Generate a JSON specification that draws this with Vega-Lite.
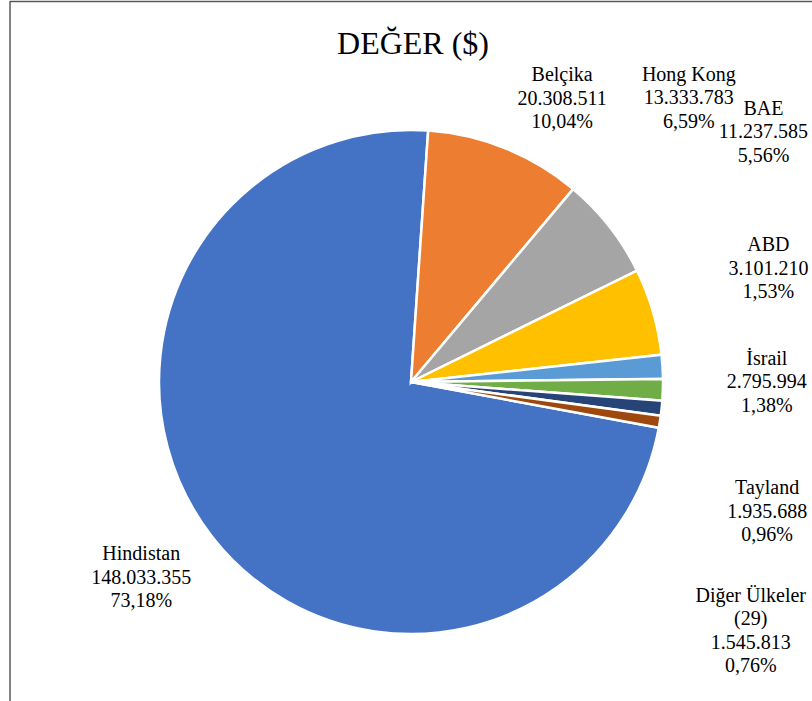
{
  "$schema": "https://vega.github.io/schema/vega-lite/v6.json",
  "width": 802,
  "height": 700,
  "autosize": {"type": "none"},
  "padding": {"left": 10, "top": 1, "right": 0, "bottom": 0},
  "background": "white",
  "title": {"text": "DEĞER ($)", "font": "Liberation Serif", "fontSize": 32, "fontWeight": "normal", "color": "#000000", "anchor": "middle", "frame": "group", "offset": -86, "baseline": "alphabetic", "dx": 2},
  "config": {
    "view": {"stroke": null},
    "locale": {"number": {"decimal": ",", "thousands": ".", "grouping": [3], "currency": ["", " $"]}}
  },
  "data": {"values": [
    {"ulke": "Hindistan", "deger": 148033355, "sira": 1},
    {"ulke": "Belçika", "deger": 20308511, "sira": 2},
    {"ulke": "Hong Kong", "deger": 13333783, "sira": 3},
    {"ulke": "BAE", "deger": 11237585, "sira": 4},
    {"ulke": "ABD", "deger": 3101210, "sira": 5},
    {"ulke": "İsrail", "deger": 2795994, "sira": 6},
    {"ulke": "Tayland", "deger": 1935688, "sira": 7},
    {"ulke": "Diğer Ülkeler (29)", "deger": 1545813, "sira": 8}
  ]},
  "transform": [
    {"joinaggregate": [{"op": "sum", "field": "deger", "as": "toplam"}]},
    {"window": [{"op": "sum", "field": "deger", "as": "kum"}], "sort": [{"field": "sira"}], "frame": [null, 0]},
    {"calculate": "datum.kum - datum.deger / 2", "as": "orta"},
    {"calculate": "replace(datum.ulke, ' (', '\\n(') + '\\n' + format(datum.deger, ',') + '\\n' + format(datum.deger / datum.toplam, '.2%')", "as": "etiket"}
  ],
  "layer": [
    {
      "transform": [{"aggregate": [{"op": "count", "as": "n"}]}],
      "mark": {"type": "rule", "stroke": "#595959", "strokeWidth": 1.5},
      "encoding": {"y": {"value": 0.5}}
    },
    {
      "transform": [{"aggregate": [{"op": "count", "as": "n"}]}],
      "mark": {"type": "rule", "stroke": "#595959", "strokeWidth": 1.5},
      "encoding": {"x": {"value": 0}}
    },
    {
      "mark": {"type": "arc", "outerRadius": 252, "stroke": "white", "strokeWidth": 2.5, "yOffset": 31},
      "encoding": {
        "theta": {"field": "deger", "type": "quantitative", "stack": true, "scale": {"range": [1.7534, 8.0366]}},
        "order": {"field": "sira", "type": "quantitative"},
        "color": {"field": "ulke", "type": "nominal", "legend": null,
          "scale": {"domain": ["Hindistan", "Belçika", "Hong Kong", "BAE", "ABD", "İsrail", "Tayland", "Diğer Ülkeler (29)"],
                    "range": ["#4472C4", "#ED7D31", "#A5A5A5", "#FFC000", "#5B9BD5", "#70AD47", "#264478", "#9E480E"]}}
      }
    },
    {"transform": [{"filter": "datum.ulke == 'Hindistan'"}], "mark": {"type": "text", "font": "Liberation Serif", "fontSize": 20, "color": "#000000", "align": "center", "baseline": "alphabetic", "lineBreak": "\n", "lineHeight": 23.5, "radius": 325, "dx": -13, "dy": 10},
     "encoding": {"theta": {"field": "orta", "type": "quantitative"}, "text": {"field": "etiket", "type": "nominal"}}},
    {"transform": [{"filter": "datum.ulke == 'Belçika'"}], "mark": {"type": "text", "font": "Liberation Serif", "fontSize": 20, "color": "#000000", "align": "center", "baseline": "alphabetic", "lineBreak": "\n", "lineHeight": 23.5, "radius": 305, "dx": 37, "dy": 13},
     "encoding": {"theta": {"field": "orta", "type": "quantitative"}, "text": {"field": "etiket", "type": "nominal"}}},
    {"transform": [{"filter": "datum.ulke == 'Hong Kong'"}], "mark": {"type": "text", "font": "Liberation Serif", "fontSize": 20, "color": "#000000", "align": "center", "baseline": "alphabetic", "lineBreak": "\n", "lineHeight": 23.5, "radius": 320, "dx": 26, "dy": -73},
     "encoding": {"theta": {"field": "orta", "type": "quantitative"}, "text": {"field": "etiket", "type": "nominal"}}},
    {"transform": [{"filter": "datum.ulke == 'BAE'"}], "mark": {"type": "text", "font": "Liberation Serif", "fontSize": 20, "color": "#000000", "align": "center", "baseline": "alphabetic", "lineBreak": "\n", "lineHeight": 23.5, "radius": 340, "dx": 26, "dy": -141},
     "encoding": {"theta": {"field": "orta", "type": "quantitative"}, "text": {"field": "etiket", "type": "nominal"}}},
    {"transform": [{"filter": "datum.ulke == 'ABD'"}], "mark": {"type": "text", "font": "Liberation Serif", "fontSize": 20, "color": "#000000", "align": "center", "baseline": "alphabetic", "lineBreak": "\n", "lineHeight": 23.5, "radius": 340, "dx": 18, "dy": -79},
     "encoding": {"theta": {"field": "orta", "type": "quantitative"}, "text": {"field": "etiket", "type": "nominal"}}},
    {"transform": [{"filter": "datum.ulke == 'İsrail'"}], "mark": {"type": "text", "font": "Liberation Serif", "fontSize": 20, "color": "#000000", "align": "center", "baseline": "alphabetic", "lineBreak": "\n", "lineHeight": 23.5, "radius": 340, "dx": 16, "dy": 3},
     "encoding": {"theta": {"field": "orta", "type": "quantitative"}, "text": {"field": "etiket", "type": "nominal"}}},
    {"transform": [{"filter": "datum.ulke == 'Tayland'"}], "mark": {"type": "text", "font": "Liberation Serif", "fontSize": 20, "color": "#000000", "align": "center", "baseline": "alphabetic", "lineBreak": "\n", "lineHeight": 23.5, "radius": 340, "dx": 18, "dy": 108},
     "encoding": {"theta": {"field": "orta", "type": "quantitative"}, "text": {"field": "etiket", "type": "nominal"}}},
    {"transform": [{"filter": "datum.ulke == 'Diğer Ülkeler (29)'"}], "mark": {"type": "text", "font": "Liberation Serif", "fontSize": 20, "color": "#000000", "align": "center", "baseline": "alphabetic", "lineBreak": "\n", "lineHeight": 23.5, "radius": 340, "dx": 4, "dy": 197},
     "encoding": {"theta": {"field": "orta", "type": "quantitative"}, "text": {"field": "etiket", "type": "nominal"}}}
  ]
}
